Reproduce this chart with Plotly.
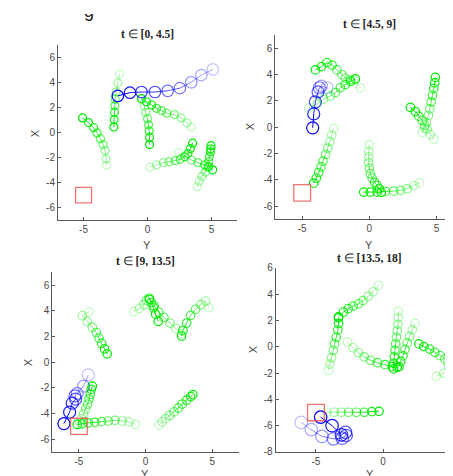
import plotly.graph_objects as go

# ---------------- data (horizontal = "Y", vertical = "X"), ordered oldest -> newest
titles = ["[0, 4.5]", "[4.5, 9]", "[9, 13.5]", "[13.5, 18]"]
target_center = (-5.0, -5.0)
target_side = 1.25

p1_blue = [(5.11, 5.05), (4.21, 4.59), (3.42, 4.02), (2.53, 3.55), (1.58, 3.34),
           (0.58, 3.24), (-0.47, 3.24), (-1.37, 3.19), (-2.32, 2.93)]
p1_g1 = [(-3.21, -2.62), (-3.24, -2.10), (-3.32, -1.42), (-3.47, -0.96), (-3.68, -0.49),
         (-3.95, -0.03), (-4.21, 0.39), (-4.61, 0.80), (-5.08, 1.17)]
p1_g2 = [(-2.18, 4.66), (-2.32, 3.96), (-2.45, 3.24), (-2.53, 2.67), (-2.55, 2.15),
         (-2.58, 1.63), (-2.61, 1.04), (-2.63, 0.44)]
p1_g3 = [(-0.47, 2.67), (-0.26, 2.12), (-0.13, 1.61), (0.0, 1.11), (0.08, 0.62),
         (0.13, 0.13), (0.16, -0.39), (0.16, -0.96)]
p1_g4 = [(3.42, 0.44), (3.08, 0.78), (2.63, 1.17), (2.10, 1.43), (1.50, 1.55),
         (1.10, 1.76), (0.71, 1.94), (0.32, 2.21), (-0.08, 2.46), (-0.47, 2.72)]
p1_g5 = [(0.19, -2.77), (0.71, -2.59), (1.24, -2.41), (1.69, -2.33), (2.16, -2.25),
         (2.56, -2.14), (2.90, -1.94), (3.16, -1.68), (3.35, -1.29), (3.53, -0.85)]
p1_g6 = [(2.42, -1.63), (2.95, -1.94), (3.43, -2.20), (3.95, -2.41), (4.47, -2.59),
         (4.79, -2.72), (5.10, -2.98)]
p1_g7 = [(3.89, -4.33), (4.05, -3.89), (4.26, -3.50), (4.53, -3.16), (4.71, -2.77),
         (4.79, -2.33), (4.84, -1.94), (4.92, -1.55), (4.95, -1.30), (4.97, -1.05)]

p2_blue = [(-3.15, 3.00), (-3.57, 3.13), (-3.72, 3.00), (-3.82, 2.68), (-4.02, 1.93),
           (-4.14, 1.01), (-4.22, -0.05)]
p2_g1 = [(-0.67, 3.00), (-1.17, 3.57), (-1.41, 3.62), (-1.79, 3.74), (-2.04, 3.99),
         (-2.41, 4.36), (-2.78, 4.73), (-3.15, 4.91), (-3.57, 4.61), (-4.02, 4.36)]
p2_g2 = [(-4.52, 1.45), (-3.90, 1.76), (-3.40, 2.13), (-2.90, 2.38), (-2.53, 2.63),
         (-2.16, 3.00), (-1.79, 3.24), (-1.41, 3.49), (-1.04, 3.67)]
p2_g3 = [(-2.66, -0.10), (-2.80, -0.60), (-2.95, -1.09), (-3.10, -1.59), (-3.25, -2.08),
         (-3.45, -2.58), (-3.60, -3.02), (-3.77, -3.45), (-3.95, -3.87), (-4.14, -4.26)]
p2_g4 = [(0.0, -1.34), (-0.05, -1.84), (-0.05, -2.28), (-0.05, -2.71), (0.0, -3.13),
         (0.07, -3.53), (0.20, -3.87), (0.39, -4.20), (0.57, -4.44), (0.74, -4.69), (0.89, -4.96)]
p2_g5 = [(3.74, -4.24), (3.30, -4.44), (2.80, -4.69), (2.31, -4.81), (1.81, -4.87),
         (1.19, -4.89), (0.57, -4.94), (0.07, -4.94), (-0.42, -4.94)]
p2_g6 = [(3.92, -0.40), (4.09, -0.05), (4.24, 0.35), (4.39, 0.89), (4.49, 1.39),
         (4.59, 1.93), (4.69, 2.43), (4.79, 2.93), (4.86, 3.37), (4.91, 3.79)]
p2_g7 = [(4.79, -0.92), (4.54, -0.55), (4.29, -0.15), (4.12, 0.15), (3.92, 0.52),
         (3.67, 0.84), (3.42, 1.19), (3.05, 1.51)]

p3_blue = [(-4.30, -1.00), (-4.65, -1.88), (-5.13, -2.44), (-5.30, -2.64), (-5.25, -2.89),
           (-5.50, -3.20), (-5.70, -3.90), (-6.13, -4.79)]
p3_g1 = [(-4.25, 3.92), (-4.75, 3.62), (-4.38, 3.17), (-4.00, 2.72), (-3.70, 2.29),
         (-3.50, 1.86), (-3.30, 1.45), (-3.08, 1.02), (-2.88, 0.64)]
p3_g2 = [(-0.88, 3.93), (-0.45, 4.18), (-0.13, 4.48), (0.05, 4.81), (0.25, 4.99),
         (0.43, 4.64), (0.58, 4.23), (0.75, 3.73), (0.95, 3.17)]
p3_g3 = [(4.75, 4.23), (4.50, 4.74), (4.13, 4.48), (3.75, 4.11), (3.38, 3.63),
         (3.08, 3.04), (2.80, 2.46), (2.70, 2.03)]
p3_g4 = [(2.70, 2.20), (2.25, 2.62), (1.83, 3.04), (1.38, 3.47), (1.00, 3.88),
         (0.63, 4.38), (0.30, 4.89)]
p3_g5 = [(-4.95, -4.79), (-4.80, -4.41), (-4.65, -4.03), (-4.50, -3.65), (-4.35, -3.27),
         (-4.25, -2.89), (-4.15, -2.51), (-4.08, -2.13), (-4.00, -1.88)]
p3_g6 = [(-0.75, -4.86), (-1.25, -4.66), (-1.75, -4.59), (-2.30, -4.54), (-2.80, -4.59),
         (-3.30, -4.64), (-3.80, -4.69), (-4.30, -4.74), (-4.75, -4.81), (-5.13, -4.86)]
p3_g7 = [(1.00, -4.91), (1.25, -4.66), (1.50, -4.41), (1.80, -4.16), (2.13, -3.88),
         (2.45, -3.58), (2.75, -3.27), (3.08, -2.97), (3.38, -2.69), (3.55, -2.54)]

p4_blue = [(-6.10, -5.75), (-5.35, -6.30), (-4.55, -6.82), (-3.70, -7.00), (-3.05, -6.95),
           (-2.75, -6.75), (-2.80, -6.50), (-3.10, -6.70), (-3.80, -6.00), (-4.65, -5.35)]
p4_g1 = [(-4.06, -1.76), (-3.96, -1.31), (-3.84, -0.82), (-3.71, -0.27), (-3.61, 0.22),
         (-3.49, 0.72), (-3.37, 1.29), (-3.32, 1.78), (-3.32, 2.21)]
p4_g2 = [(-0.35, 4.68), (-0.74, 4.19), (-1.11, 3.84), (-1.49, 3.52), (-1.83, 3.27),
         (-2.23, 3.10), (-2.60, 2.90), (-2.95, 2.65), (-3.32, 2.28)]
p4_g3 = [(-2.65, 0.37), (-2.23, -0.07), (-1.83, -0.45), (-1.41, -0.77), (-0.94, -1.02),
         (-0.42, -1.21), (0.15, -1.36), (0.69, -1.51), (1.06, -1.56)]
p4_g4 = [(1.14, 2.70), (1.14, 2.21), (1.11, 1.71), (1.06, 1.21), (0.99, 0.72),
         (0.94, 0.22), (0.89, -0.27), (0.84, -0.77), (0.79, -1.26), (0.79, -1.68)]
p4_g5 = [(2.38, 1.78), (2.18, 1.29), (1.98, 0.79), (1.81, 0.30), (1.63, -0.20),
         (1.49, -0.69), (1.31, -1.11), (1.19, -1.51)]
p4_g6 = [(3.96, -2.25), (4.53, -2.01), (4.90, -1.64), (4.83, -1.21), (4.60, -0.92),
         (4.26, -0.67), (3.86, -0.42), (3.47, -0.17), (3.04, 0.02), (2.67, 0.22)]
p4_g7 = [(-4.18, -4.98), (-3.64, -4.98), (-3.12, -4.98), (-2.57, -4.98), (-1.98, -4.98),
         (-1.39, -4.98), (-0.84, -4.93), (-0.30, -4.91)]

x_ticks = [-5, 0, 5]
y_ticks_a = [-6, -4, -2, 0, 2, 4, 6]
y_ticks_b = [-8, -6, -4, -2, 0, 2, 4, 6]

# ---------------- layout geometry (pixels)
W, H = 453, 476
panels = [
    dict(blue=p1_blue, greens=[p1_g1, p1_g2, p1_g3, p1_g4, p1_g5, p1_g6, p1_g7],
         px=(50.0, 229.0), py=(31.7, 211.0), xr=(-7, 7), yr=(-7, 7), yt=y_ticks_a,
         bsize=11.5, gsize=8, title_y=20.5, xlab=(139.3, 236), ylab=(27.3, 121.7)),
    dict(blue=p2_blue, greens=[p2_g1, p2_g2, p2_g3, p2_g4, p2_g5, p2_g6, p2_g7],
         px=(267.3, 453.0), py=(21.7, 210.0), xr=(-7, -7 + (453 - 267.3) / 13.44), yr=(-7, 7),
         yt=y_ticks_a, bsize=12, gsize=8.5, title_y=10, xlab=(360.7, 236), ylab=(241.7, 115.3),
         xfull=(-7, 7)),
    dict(blue=p3_blue, greens=[p3_g1, p3_g2, p3_g3, p3_g4, p3_g5, p3_g6, p3_g7],
         px=(44.3, 230.9), py=(264.3, 448.3), xr=(-7, 7), yr=(-7, 7), yt=y_ticks_a,
         bsize=12, gsize=8.5, title_y=253.3, xlab=(136.7, 471), ylab=(20.7, 356.7)),
    dict(blue=p4_blue, greens=[p4_g1, p4_g2, p4_g3, p4_g4, p4_g5, p4_g6, p4_g7],
         px=(267.7, 453.0), py=(260.0, 448.3), xr=(-8, -8 + (453 - 267.7) / 13.42), yr=(-8, 6),
         yt=y_ticks_b, bsize=12.5, gsize=8.5, title_y=250, xlab=(361.7, 471), ylab=(245, 343.3),
         xfull=(-8, 6)),
]

GREEN = "0,235,0"
BLUE = "0,0,255"
AX_COL = "#5a5a5a"
TXT_COL = "#4a4a4a"

fig = go.Figure()


def add_traj(pts, rgb, size, xa, ya):
    n = len(pts)
    alphas = [0.25 + 0.75 * i / (n - 1) for i in range(n)]
    for i in range(n - 1):
        fig.add_trace(go.Scatter(
            x=[pts[i][0], pts[i + 1][0]], y=[pts[i][1], pts[i + 1][1]], mode="lines",
            line=dict(color=f"rgba({rgb},{alphas[i + 1]:.3f})", width=1),
            xaxis=xa, yaxis=ya, hoverinfo="skip", showlegend=False))
    fig.add_trace(go.Scatter(
        x=[p[0] for p in pts], y=[p[1] for p in pts], mode="markers",
        marker=dict(symbol="circle-open", size=size,
                    color=[f"rgba({rgb},{a:.3f})" for a in alphas], line=dict(width=1.2)),
        xaxis=xa, yaxis=ya, hoverinfo="skip", showlegend=False))


annotations = []
shapes = []
for k, p in enumerate(panels):
    idx = "" if k == 0 else str(k + 1)
    xa, ya = "x" + idx, "y" + idx
    for g in p["greens"]:
        add_traj(g, GREEN, p["gsize"], xa, ya)
    add_traj(p["blue"], BLUE, p["bsize"], xa, ya)

    dom_x = [p["px"][0] / W, p["px"][1] / W]
    dom_y = [1 - p["py"][1] / H, 1 - p["py"][0] / H]
    axis_common = dict(showline=True, linecolor=AX_COL, linewidth=1, mirror=False,
                       ticks="inside", ticklen=3, tickcolor=AX_COL, showgrid=False,
                       zeroline=False, tickfont=dict(family="Liberation Sans", size=10, color=TXT_COL),
                       fixedrange=True)
    fig.update_layout(**{
        "xaxis" + idx: dict(domain=dom_x, range=list(p["xr"]), tickvals=x_ticks,
                            ticktext=[str(v) for v in x_ticks], anchor=ya, **axis_common),
        "yaxis" + idx: dict(domain=dom_y, range=list(p["yr"]), tickvals=p["yt"],
                            ticktext=[str(v) for v in p["yt"]], anchor=xa, **axis_common),
    })
    # full axis centre (including part clipped by the page edge)
    xf = p.get("xfull", p["xr"])
    ppu = (p["px"][1] - p["px"][0]) / (p["xr"][1] - p["xr"][0])
    cx = p["px"][0] + ppu * ((xf[0] + xf[1]) / 2 - xf[0])
    annotations.append(dict(
        text=f"<b>t</b> ∈ <b>{titles[k]}</b>", x=cx / W, y=1 - p["title_y"] / H,
        xref="paper", yref="paper", xanchor="center", yanchor="middle", showarrow=False,
        font=dict(family="Liberation Serif", size=11.5, color="#222")))
    annotations.append(dict(
        text="Y", x=p["xlab"][0] / W, y=1 - p["xlab"][1] / H, xref="paper", yref="paper",
        xanchor="center", yanchor="middle", showarrow=False,
        font=dict(family="Liberation Sans", size=11, color=TXT_COL)))
    annotations.append(dict(
        text="X", x=p["ylab"][0] / W, y=1 - p["ylab"][1] / H, xref="paper", yref="paper",
        xanchor="center", yanchor="middle", showarrow=False, textangle=-90,
        font=dict(family="Liberation Sans", size=11, color=TXT_COL)))
    shapes.append(dict(
        type="rect", xref=xa, yref=ya,
        x0=target_center[0] - target_side / 2, x1=target_center[0] + target_side / 2,
        y0=target_center[1] - target_side / 2, y1=target_center[1] + target_side / 2,
        line=dict(color="rgba(240,70,70,0.75)", width=1.3)))

# cut-off fragment of a figure title at the very top: drawn as text in a thin strip
# subplot whose clip path hides everything above the page edge
STRIP_PX = 12
fig.add_trace(go.Scatter(x=[81], y=[STRIP_PX - 8], mode="text", text=["g"],
                         textposition="top center", cliponaxis=True,
                         textfont=dict(family="Liberation Sans", size=18, color="#222"),
                         xaxis="x5", yaxis="y5", hoverinfo="skip", showlegend=False))
fig.update_layout(
    xaxis5=dict(domain=[0, 1], range=[0, W], visible=False, fixedrange=True, anchor="y5"),
    yaxis5=dict(domain=[1 - STRIP_PX / H, 1], range=[0, STRIP_PX], visible=False,
                fixedrange=True, anchor="x5"),
)

fig.update_layout(width=W, height=H, margin=dict(l=0, r=0, t=0, b=0),
                  paper_bgcolor="white", plot_bgcolor="rgba(0,0,0,0)",
                  annotations=annotations, shapes=shapes, showlegend=False)

fig.write_html("out.html")
